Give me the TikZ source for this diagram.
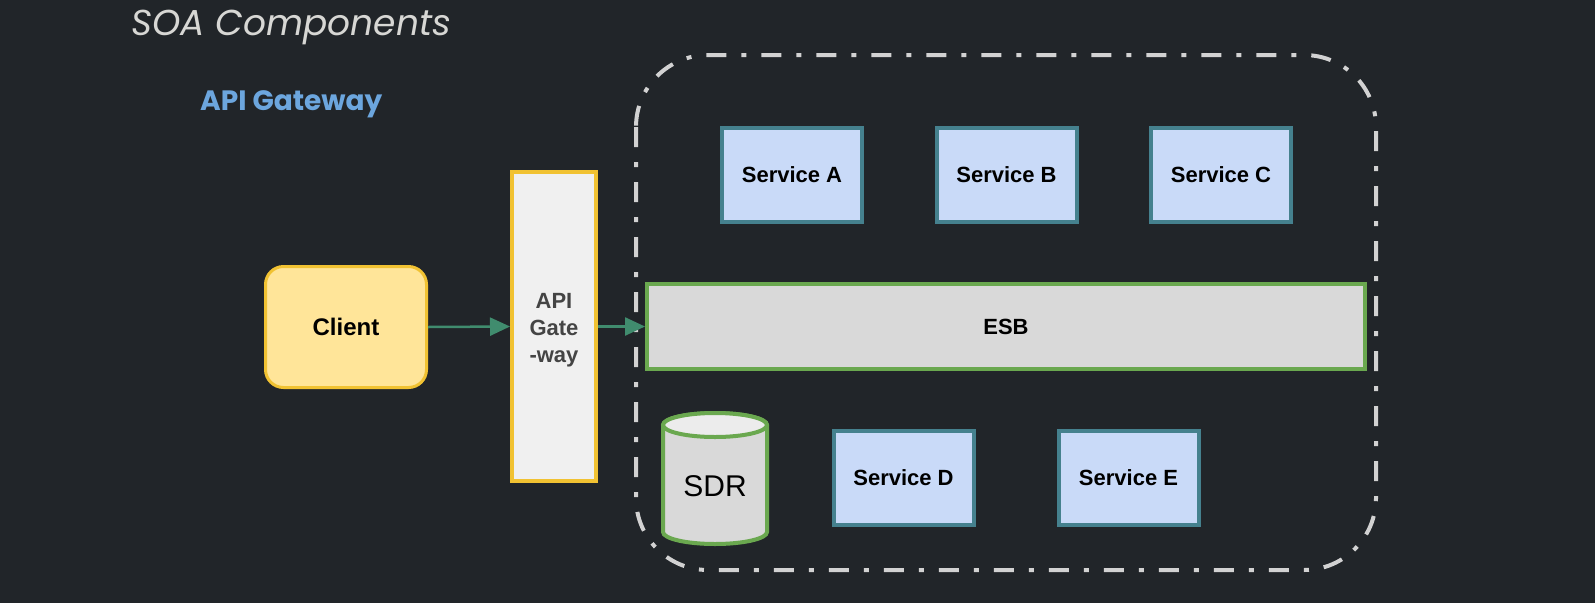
\documentclass[tikz,border=0pt]{standalone}
\usepackage{fontspec}
\setmainfont{Liberation Sans}
\newfontfamily\popp{Poppins}
\usetikzlibrary{arrows.meta}
\definecolor{bg}{RGB}{33,37,41}
\definecolor{titlegray}{RGB}{215,215,212}
\definecolor{titleblue}{RGB}{108,166,222}
\definecolor{clientfill}{RGB}{255,229,153}
\definecolor{yellowline}{RGB}{241,194,50}
\definecolor{gwfill}{RGB}{240,240,240}
\definecolor{gwtext}{RGB}{68,68,68}
\definecolor{esbfill}{RGB}{217,217,217}
\definecolor{greenline}{RGB}{106,168,79}
\definecolor{svcfill}{RGB}{201,218,248}
\definecolor{svcline}{RGB}{69,129,142}
\definecolor{arrowgreen}{RGB}{64,140,110}
\definecolor{dashgray}{RGB}{210,210,210}
\definecolor{sdrtop}{RGB}{236,236,236}
\begin{document}
\begin{tikzpicture}[x=1pt,y=-1pt,
  boxtext/.style={font=\fontsize{22}{27}\selectfont\bfseries, text=black, align=center},
  svc/.style={boxtext, draw=svcline, fill=svcfill, line width=4pt, minimum width=140pt, minimum height=94pt, inner sep=0pt},
  conn/.style={draw=arrowgreen, line width=2.5pt, -{Triangle[length=20pt,width=18pt]}}
]
\fill[bg] (0,0) rectangle (1595,603);
\useasboundingbox (0,0) rectangle (1595,603);

% titles
\node[anchor=base west, inner sep=0pt, text=titlegray, font=\popp\itshape\fontsize{36}{40}\selectfont] (title) at (131,35) {SOA Components};
\node[anchor=base west, inner sep=0pt, text=titleblue, font=\popp\bfseries\fontsize{28}{32}\selectfont] (subtitle) at (200,110) {API Gateway};

% container
\draw[dashgray, line width=4pt, rounded corners=72pt, dash pattern=on 20pt off 15pt on 5pt off 15pt] (636,55) rectangle (1376,570);

% nodes
\node[boxtext, font=\fontsize{24}{28}\selectfont\bfseries, draw=yellowline, fill=clientfill, line width=3pt, rounded corners=18pt, minimum width=161pt, minimum height=121pt, inner sep=0pt] (client) at (346,327) {Client};
\node[boxtext, text=gwtext, draw=yellowline, fill=gwfill, line width=4pt, minimum width=84pt, minimum height=309pt, inner sep=0pt] (gw) at (554,326.5) {};
\node[boxtext, text=gwtext, inner sep=0pt] (gwlabel) at (554,330) {API\\Gate\\-way};
\node[boxtext, draw=greenline, fill=esbfill, line width=4pt, minimum width=718pt, minimum height=85pt, inner sep=0pt] (esb) at (1006,326.5) {ESB};

\node[svc] (sa) at (792,175) {Service A};
\node[svc] (sb) at (1006.5,175) {Service B};
\node[svc] (sc) at (1221,175) {Service C};
\node[svc] (sd) at (903.5,478) {Service D};
\node[svc] (se) at (1128.5,478) {Service E};

% SDR cylinder
\filldraw[draw=greenline, fill=esbfill, line width=4pt]
  (663,425) -- (663,532) arc[start angle=180, end angle=360, x radius=52pt, y radius=12pt]
  -- (767,425) arc[start angle=0, end angle=180, x radius=52pt, y radius=12pt] -- cycle;
\filldraw[draw=greenline, fill=sdrtop, line width=4pt] (715,425) ellipse[x radius=52pt, y radius=12pt];
\node[font=\fontsize{30}{34}\selectfont, text=black, inner sep=0pt] (sdr) at (715,486) {SDR};

% connectors
\draw[conn] (client.east) -- (gw.west);
\draw[conn] (gw.east) -- (esb.west);
\end{tikzpicture}
\end{document}
